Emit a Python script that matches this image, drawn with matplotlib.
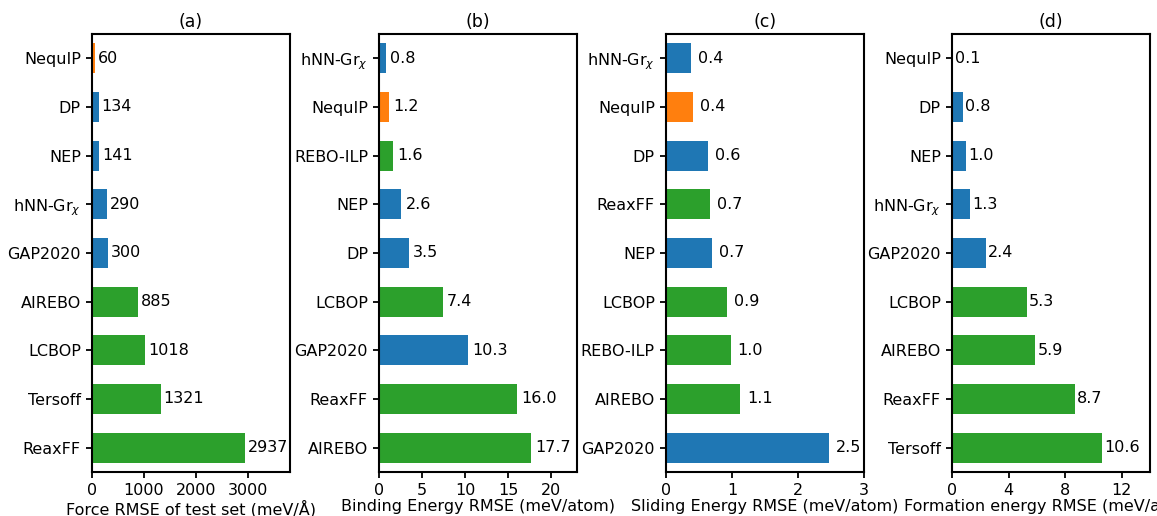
import matplotlib
matplotlib.use('Agg')
import matplotlib.pyplot as plt

BLUE, ORANGE, GREEN = '#1f77b4', '#ff7f0e', '#2ca02c'
HNN = 'hNN-Gr$_\\chi$'

# (a) force RMSE
force_models = ['NequIP', 'DP', 'NEP', HNN, 'GAP2020', 'AIREBO', 'LCBOP', 'Tersoff', 'ReaxFF']
force_rmse = [60, 134, 141, 290, 300, 885, 1018, 1321, 2937]
force_colors = [ORANGE, BLUE, BLUE, BLUE, BLUE, GREEN, GREEN, GREEN, GREEN]

# (b) binding energy RMSE
bind_models = [HNN, 'NequIP', 'REBO-ILP', 'NEP', 'DP', 'LCBOP', 'GAP2020', 'ReaxFF', 'AIREBO']
bind_rmse = [0.8, 1.2, 1.6, 2.6, 3.5, 7.4, 10.3, 16.0, 17.7]
bind_colors = [BLUE, ORANGE, GREEN, BLUE, BLUE, GREEN, BLUE, GREEN, GREEN]

# (c) sliding energy RMSE
slide_models = [HNN, 'NequIP', 'DP', 'ReaxFF', 'NEP', 'LCBOP', 'REBO-ILP', 'AIREBO', 'GAP2020']
slide_rmse = [0.38, 0.41, 0.64, 0.67, 0.70, 0.92, 0.98, 1.13, 2.47]
slide_colors = [BLUE, ORANGE, BLUE, GREEN, BLUE, GREEN, GREEN, GREEN, BLUE]

# (d) formation energy RMSE
form_models = ['NequIP', 'DP', 'NEP', HNN, 'GAP2020', 'LCBOP', 'AIREBO', 'ReaxFF', 'Tersoff']
form_rmse = [0.1, 0.8, 1.0, 1.3, 2.4, 5.3, 5.9, 8.7, 10.6]
form_colors = [ORANGE, BLUE, BLUE, BLUE, BLUE, GREEN, GREEN, GREEN, GREEN]

panels = [
    ('(a)', force_models, force_rmse, force_colors, 'Force RMSE of test set (meV/Å)',
     3800, [0, 1000, 2000, 3000], '%d', 2),
    ('(b)', bind_models, bind_rmse, bind_colors, 'Binding Energy RMSE (meV/atom)',
     23, [0, 5, 10, 15, 20], '%.1f', 3),
    ('(c)', slide_models, slide_rmse, slide_colors, 'Sliding Energy RMSE (meV/atom)',
     3, [0, 1, 2, 3], '%.1f', 5),
    ('(d)', form_models, form_rmse, form_colors, 'Formation energy RMSE (meV/atom)',
     14, [0, 4, 8, 12], '%.1f', 1.5),
]

plt.rcParams['font.size'] = 11.5
fig = plt.figure(figsize=(11.57, 5.16), dpi=100)
lefts = [0.0795, 0.3276, 0.5756, 0.8228]

for left, (title, models, vals, colors, xlabel, xmax, ticks, fmt, pad) in zip(lefts, panels):
    ax = fig.add_axes([left, 0.0853, 0.171, 0.849])
    pos = list(range(len(models)))
    bars = ax.barh(pos, vals, height=0.62, color=colors)
    ax.bar_label(bars, fmt=fmt, padding=pad, fontsize=11.5)
    ax.set_yticks(pos)
    ax.set_yticklabels(models)
    ax.set_ylim(8.5, -0.5)
    ax.set_xlim(0, xmax)
    ax.set_xticks(ticks)
    ax.set_xlabel(xlabel, labelpad=1)
    ax.set_title(title, fontsize=12.5, pad=5)
    for s in ax.spines.values():
        s.set_linewidth(1.5)
    ax.tick_params(width=1.3, length=4.5)

plt.savefig('out.png', dpi=100)
